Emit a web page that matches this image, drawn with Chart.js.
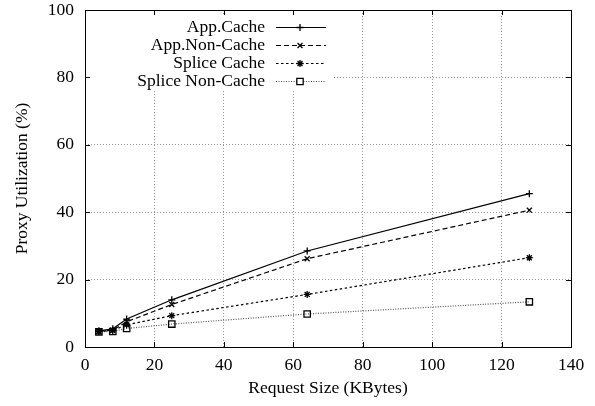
<!DOCTYPE html>
<html>
<head>
<meta charset="utf-8">
<script src="https://cdn.jsdelivr.net/npm/chart.js@4"></script>
<style>
  html, body { margin: 0; padding: 0; background: #fff; }
  #wrap { width: 595px; height: 406px; }
</style>
</head>
<body>
<div id="wrap"><canvas id="chart"></canvas></div>
<script>
// request sizes (KBytes)
var sizes = [4, 8, 12, 25, 64, 128];

var seriesLabels = ['App.Cache', 'App.Non-Cache', 'Splice Cache', 'Splice Non-Cache'];
var appCache = [4.8, 5.4, 8.3, 14.0, 28.5, 45.5];
var appNonCache = [4.7, 5.0, 7.5, 12.6, 26.2, 40.6];
var spliceCache = [4.6, 4.9, 6.6, 9.3, 15.6, 26.5];
var spliceNonCache = [4.5, 4.6, 5.5, 6.8, 9.8, 13.4];

var xTicks = [0, 20, 40, 60, 80, 100, 120, 140];
var yTicks = [0, 20, 40, 60, 80, 100];

var FONT = '"Liberation Serif", "DejaVu Serif", serif';
var FSIZE = 17.5;

function toPoints(vals) {
  return vals.map(function (v, i) { return { x: sizes[i], y: v }; });
}

// gnuplot style frame, inner ticks and legend
var gnuplotBits = {
  id: 'gnuplotBits',
  beforeDatasetsDraw: function (chart) {
    // legend box clears the grid behind it
    var ctx = chart.ctx;
    ctx.save();
    ctx.fillStyle = '#fff';
    ctx.fillRect(chart.chartArea.left + 1, 16, 332 - chart.chartArea.left, 73);
    ctx.restore();
  },
  afterDraw: function (chart) {
    var ctx = chart.ctx;
    var a = chart.chartArea;
    var xs = chart.scales.x, ys = chart.scales.y;
    ctx.save();
    ctx.strokeStyle = '#000';
    ctx.lineWidth = 1;
    ctx.setLineDash([]);
    ctx.strokeRect(Math.round(a.left) + 0.5, Math.round(a.top) + 0.5,
                   Math.round(a.right - a.left), Math.round(a.bottom - a.top));
    // inner ticks
    ctx.beginPath();
    xTicks.forEach(function (t) {
      var px = Math.round(xs.getPixelForValue(t)) + 0.5;
      ctx.moveTo(px, a.bottom); ctx.lineTo(px, a.bottom - 5);
      ctx.moveTo(px, a.top); ctx.lineTo(px, a.top + 5);
    });
    yTicks.forEach(function (t) {
      var py = Math.round(ys.getPixelForValue(t)) + 0.5;
      ctx.moveTo(a.left, py); ctx.lineTo(a.left + 5, py);
      ctx.moveTo(a.right, py); ctx.lineTo(a.right - 5, py);
    });
    ctx.stroke();

    // legend, text right aligned, sample on the right
    ctx.font = FSIZE + 'px ' + FONT;
    ctx.textAlign = 'right';
    ctx.textBaseline = 'middle';
    chart.data.datasets.forEach(function (ds, i) {
      var y = Math.round(27 + i * 18) + 0.5;
      ctx.fillStyle = '#000';
      ctx.fillText(ds.label, 265, y);
      ctx.strokeStyle = ds.borderColor;
      ctx.lineWidth = ds.borderWidth;
      ctx.setLineDash(ds.borderDash || []);
      ctx.beginPath();
      ctx.moveTo(276, y);
      ctx.lineTo(326, y);
      ctx.stroke();
      ctx.setLineDash([]);
      ctx.strokeStyle = '#000';
      ctx.fillStyle = '#fff';
      ctx.lineWidth = 1.3;
      Chart.helpers.drawPoint(ctx, {
        pointStyle: ds.pointStyle, radius: ds.pointRadius, borderWidth: 1.3
      }, 300, y);
    });
    ctx.restore();
  }
};

function ds(label, vals, dash, style, color, radius) {
  return {
    label: label,
    data: toPoints(vals),
    borderColor: color,
    backgroundColor: 'rgba(0,0,0,0)',
    borderWidth: 1.2,
    borderDash: dash,
    pointStyle: style,
    pointRadius: radius,
    pointBorderColor: '#000',
    pointBorderWidth: 1.3,
    pointBackgroundColor: 'rgba(0,0,0,0)',
    tension: 0,
    fill: false
  };
}

new Chart(document.getElementById('chart'), {
  type: 'line',
  data: {
    datasets: [
      ds(seriesLabels[0], appCache, [], 'cross', '#000', 3.5),
      ds(seriesLabels[1], appNonCache, [5, 3], 'crossRot', '#000', 3.5),
      ds(seriesLabels[2], spliceCache, [2.5, 2.5], 'star', '#000', 3.5),
      ds(seriesLabels[3], spliceNonCache, [1, 1.5], 'rect', '#555', 4.5)
    ]
  },
  plugins: [gnuplotBits],
  options: {
    responsive: true,
    maintainAspectRatio: false,
    animation: false,
    layout: { padding: { top: 10, right: 24, left: 0, bottom: 0 } },
    plugins: { legend: { display: false }, tooltip: { enabled: false } },
    scales: {
      x: {
        type: 'linear',
        min: 0, max: 140,
        afterBuildTicks: function (s) { s.ticks = xTicks.map(function (v) { return { value: v }; }); },
        afterFit: function (s) { s.height = 59; s.paddingLeft = 0; s.paddingRight = 0; },
        grid: {
          color: function (c) { return (c.tick.value === 0 || c.tick.value === 140) ? 'rgba(0,0,0,0)' : '#999'; },
          lineWidth: 1,
          drawTicks: false
        },
        border: { display: false, dash: [1, 2] },
        ticks: { color: '#000', font: { family: FONT, size: FSIZE }, padding: 8, maxRotation: 0 },
        title: {
          display: true, text: 'Request Size (KBytes)', color: '#000',
          font: { family: FONT, size: FSIZE }, padding: { top: 0, bottom: 7 }
        }
      },
      y: {
        min: 0, max: 100,
        afterBuildTicks: function (s) { s.ticks = yTicks.map(function (v) { return { value: v }; }); },
        afterFit: function (s) { s.width = 85; s.paddingTop = 0; s.paddingBottom = 0; },
        grid: {
          color: function (c) { return (c.tick.value === 0 || c.tick.value === 100) ? 'rgba(0,0,0,0)' : '#999'; },
          lineWidth: 1,
          drawTicks: false
        },
        border: { display: false, dash: [1, 2] },
        ticks: { color: '#000', font: { family: FONT, size: FSIZE }, padding: 11 },
        title: {
          display: true, text: 'Proxy Utilization (%)', color: '#000',
          font: { family: FONT, size: FSIZE }, padding: { top: 12, bottom: 0 }
        }
      }
    }
  }
});
</script>
</body>
</html>
